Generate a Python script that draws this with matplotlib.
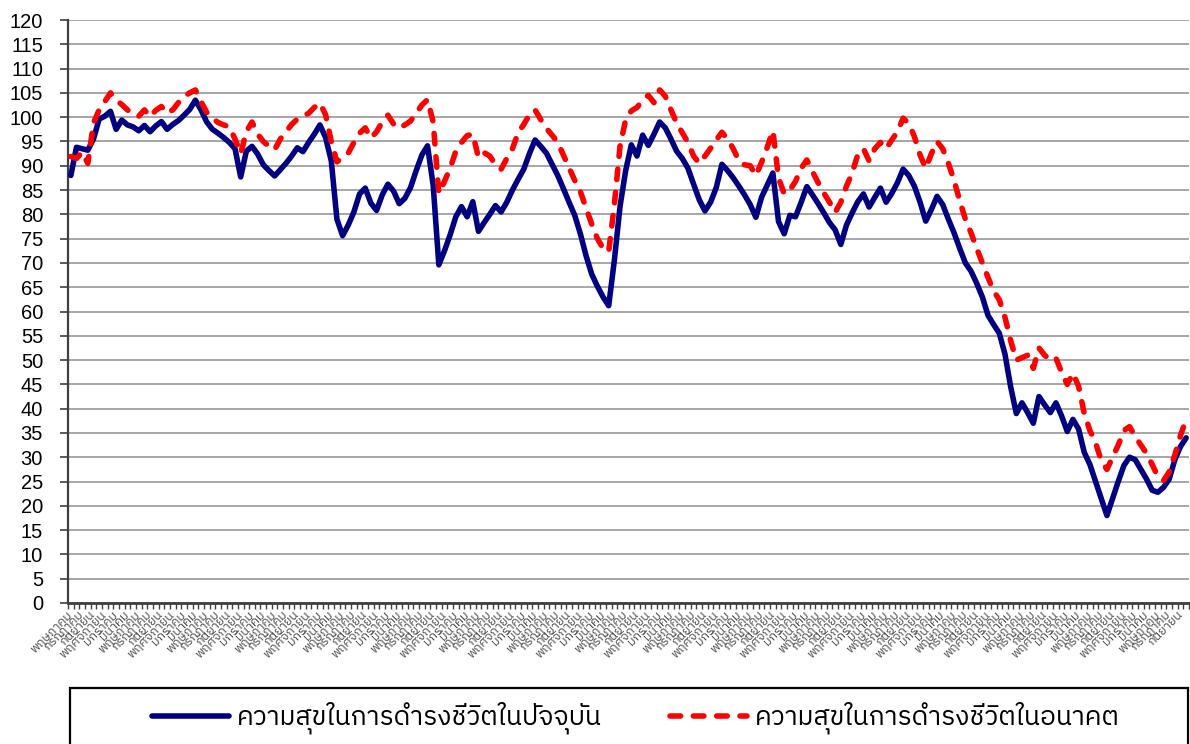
import matplotlib
matplotlib.use("Agg")
import matplotlib.pyplot as plt
import matplotlib.font_manager as fm
from matplotlib.ft2font import FT2Font
from matplotlib.patches import Rectangle
import numpy as np

# ---------------- data ----------------
month_names = ["มกราคม", "กุมภาพันธ์", "มีนาคม", "เมษายน", "พฤษภาคม", "มิถุนายน",
               "กรกฎาคม", "สิงหาคม", "กันยายน", "ตุลาคม", "พฤศจิกายน", "ธันวาคม"]
start_month = 4          # first category is พฤษภาคม
n_months = 198

current_happiness = [
    88, 93.8, 93.5, 93.2, 95.5, 99.6, 100.2, 101.2, 97.5, 99.4,
    98.4, 98, 97.2, 98.3, 97, 98.2, 99.1, 97.5, 98.5, 99.3,
    100.4, 101.6, 103.5, 101.5, 99, 97.5, 96.7, 95.8, 94.8, 93.5,
    87.7, 93, 94, 92.4, 90.2, 89, 87.9, 89.2, 90.5, 92,
    93.7, 92.9, 94.8, 96.5, 98.4, 95.8, 91, 79, 75.6, 77.8,
    80.5, 84.2, 85.4, 82.3, 80.8, 84, 86.2, 84.8, 82.2, 83.3,
    85.5, 89, 92.2, 94.1, 86, 69.6, 72.5, 75.8, 79.5, 81.6,
    79.5, 82.6, 76.5, 78.3, 80, 81.8, 80.5, 82.5, 85, 87.2,
    89.3, 92.5, 95.3, 94, 92.6, 90.3, 88, 85.3, 82.5, 79.8,
    76, 71.5, 67.7, 65.2, 63, 61.2, 70.5, 81.6, 89, 94.3,
    92, 96.3, 94.2, 96.5, 99, 97.8, 95.5, 93, 91.5, 89.5,
    86.2, 83, 80.7, 82.5, 85.5, 90.3, 89, 87.5, 85.8, 84,
    82, 79.4, 83.5, 86, 88.5, 78.5, 76, 79.8, 79.5, 82.5,
    85.7, 84, 82.2, 80.3, 78.3, 76.8, 73.8, 77.8, 80.3, 82.6,
    84.2, 81.5, 83.5, 85.4, 82.5, 84.3, 86.5, 89.3, 88, 85.8,
    82.5, 78.6, 81, 83.7, 82, 79, 76.2, 73, 70, 68.3,
    65.8, 63, 59.2, 57.3, 55.5, 51.2, 44.5, 39, 41.2, 39.2,
    37, 42.5, 40.8, 39.2, 41.2, 38.5, 35.3, 37.8, 35.8, 31,
    28.5, 25, 21.5, 18, 21.5, 25, 28.3, 30, 29.5, 27.5,
    25.5, 23.2, 22.8, 23.8, 25.5, 29.5, 32.2, 34,
]

future_happiness = [
    91.9, 91.5, 92.8, 90.5, 98.8, 101.5, 103.2, 105, 103.5, 102.6,
    101.5, 100.6, 100.2, 101.5, 100.1, 101.4, 102.2, 100.8, 101.5, 103,
    104.3, 105, 105.6, 103.2, 101, 99.8, 98.9, 98.4, 98, 95.5,
    92.5, 97, 99, 96.5, 95, 94, 93.3, 95.5, 97, 98.5,
    99.6, 100.2, 100.8, 102, 102.9, 100.5, 95, 90.8, 91.8, 92.6,
    94.8, 96.7, 97.8, 95.7, 97, 99, 100.4, 98.6, 97.7, 98.4,
    99.2, 100.8, 102.5, 103.6, 99, 84.3, 86.8, 89.5, 93, 94.8,
    96.2, 96.5, 91.7, 92.7, 92, 90.2, 89.3, 91.5, 93.5, 96.8,
    98.5, 100.5, 101.5, 99.5, 97.7, 96.3, 94.8, 92.2, 89.6, 87,
    84.7, 81.3, 78, 75, 73, 72.3, 82, 94, 99.5, 101.3,
    102, 103.5, 104.5, 103, 105.6, 104.3, 101.5, 98.8, 96.8, 94.8,
    92, 90.5, 92, 93.6, 95.3, 96.9, 95.5, 93.5, 91, 90.2,
    90, 88, 90.7, 93.8, 97.2, 87.5, 84.2, 85, 86.8, 89.5,
    91.2, 88.8, 86.5, 84.4, 82.5, 80.4, 82.5, 85.8, 88.5, 92.3,
    93.5, 91, 93.5, 94.8, 93.5, 95.3, 97, 99.8, 98.7, 96,
    92.2, 89.5, 92.5, 95, 93.5, 90.5, 87, 82.8, 79, 76.2,
    73, 70, 67, 64.2, 62.4, 58.8, 54, 50, 50.5, 51,
    48.3, 52.5, 51, 50, 50.4, 47.5, 45, 47.3, 44.6, 39,
    35.5, 33, 29.3, 27.5, 30, 32.5, 35.5, 36.3, 34.3, 32.5,
    30.8, 28.5, 26, 25.2, 27, 30.5, 34.5, 37.8,
]

series_labels = ["ความสุขในการดำรงชีวิตในปัจจุบัน", "ความสุขในการดำรงชีวิตในอนาคต"]
y_ticks = list(range(0, 121, 5))

categories = [month_names[(start_month + i) % 12] for i in range(n_months)]

# ---------------- fonts ----------------
def find_thai_font():
    best = None
    for f in fm.findSystemFonts():
        try:
            cm = FT2Font(f).get_charmap()
        except Exception:
            continue
        if 0x0E01 in cm and 0x0E33 in cm and 0x0E4C in cm:
            name = fm.FontProperties(fname=f).get_name()
            low = f.lower()
            score = 0
            if "bold" in low or "italic" in low or "oblique" in low:
                score -= 5
            if "sans" in low:
                score += 2
            if best is None or score > best[0]:
                best = (score, name)
    return best[1] if best else None

thai = find_thai_font()
thai_family = ([thai] if thai else []) + ["DejaVu Sans"]
num_family = ["Liberation Sans", "DejaVu Sans"]

# ---------------- figure ----------------
W, H = 1190, 744
fig = plt.figure(figsize=(W / 100, H / 100), dpi=100)
ax = fig.add_axes([68 / W, 1 - 603 / H, (1189 - 68) / W, (603 - 20) / H])

x = np.arange(n_months)
l1, = ax.plot(x, current_happiness, color="#000080", lw=4.0,
              solid_joinstyle="round", solid_capstyle="round",
              label=series_labels[0], zorder=3)
l2, = ax.plot(x, future_happiness, color="#ff0000", lw=4.0,
              dashes=(1.9, 2.3), dash_capstyle="round", dash_joinstyle="round",
              label=series_labels[1], zorder=4)

ax.set_ylim(0, 120)
ax.set_xlim(-0.5, n_months - 0.5)
ax.set_yticks(y_ticks)
ax.set_yticklabels([str(v) for v in y_ticks], family=num_family, fontsize=14.5,
                   color="black")
ax.yaxis.grid(True, color="#a6a6a6", lw=1.4)
ax.set_axisbelow(True)
ax.tick_params(axis="y", direction="out", length=6, width=1.2, color="#404040",
               pad=12)

# x axis: labels every second category, tick marks between categories
lab_pos = x[::2]
ax.set_xticks(lab_pos)
ax.set_xticklabels([categories[i] for i in lab_pos], rotation=45,
                   rotation_mode="anchor", ha="right", va="center",
                   family=thai_family, fontsize=9, color="#4a4a4a")
ax.tick_params(axis="x", which="major", length=0, pad=7)
ax.set_xticks(np.arange(-0.5, n_months, 1.0), minor=True)
ax.tick_params(axis="x", which="minor", direction="out", length=4, width=1.0,
               color="#404040")

for s in ["top", "right"]:
    ax.spines[s].set_visible(False)
ax.spines["left"].set_color("#404040")
ax.spines["left"].set_linewidth(1.6)
ax.spines["bottom"].set_color("#404040")
ax.spines["bottom"].set_linewidth(2.0)

# legend box (cut off at the bottom of the figure, as in the original)
fig.patches.append(Rectangle((70 / W, -0.02), (1188 - 70) / W, (744 - 688) / H + 0.02,
                             transform=fig.transFigure, fill=False,
                             edgecolor="black", lw=1.6))
fig.legend([l1, l2], series_labels, loc="center",
           bbox_to_anchor=(636 / W, 1 - 718 / H), ncol=2, frameon=False,
           prop=fm.FontProperties(family=thai_family, size=19),
           handlelength=2.9, handletextpad=0.3, columnspacing=2.6)

fig.savefig("out.png", dpi=100)
